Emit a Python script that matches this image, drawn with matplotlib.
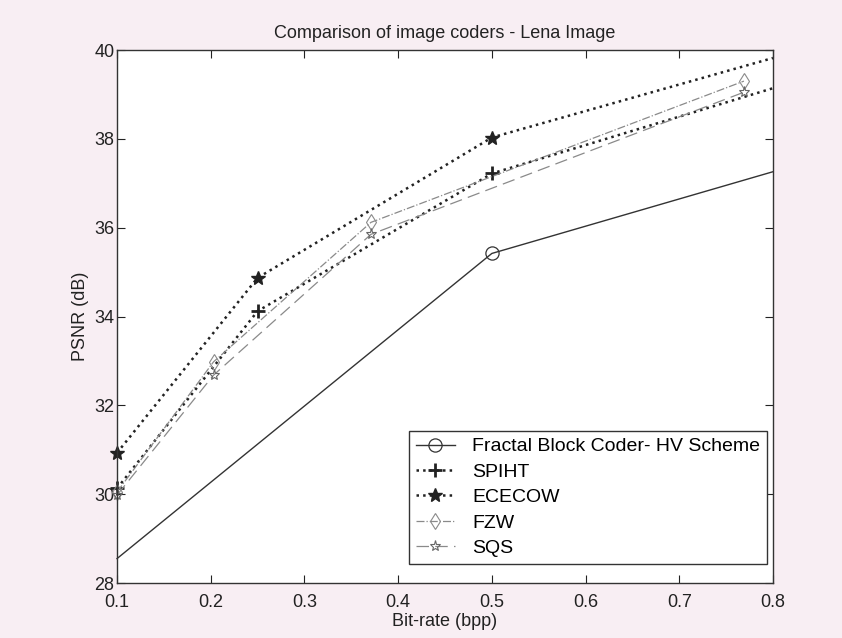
import matplotlib
matplotlib.use("Agg")
import matplotlib.pyplot as plt

plt.rcParams['font.family'] = ['Liberation Sans', 'DejaVu Sans']

# Bit-rate (bpp) and PSNR (dB) for each coder on the Lena image
fractal_bpp = [0.1, 0.5, 0.8]
fractal_psnr = [28.55, 35.42, 37.26]

spiht_bpp = [0.1, 0.25, 0.5, 0.8]
spiht_psnr = [30.13, 34.12, 37.22, 39.14]

ececow_bpp = [0.1, 0.25, 0.5, 0.8]
ececow_psnr = [30.93, 34.87, 38.03, 39.82]

fzw_bpp = [0.1, 0.203, 0.371, 0.769]
fzw_psnr = [30.05, 32.98, 36.12, 39.30]

sqs_bpp = [0.1, 0.203, 0.371, 0.769]
sqs_psnr = [29.98, 32.68, 35.85, 39.05]

x_ticks = [0.1, 0.2, 0.3, 0.4, 0.5, 0.6, 0.7, 0.8]
y_ticks = [28, 30, 32, 34, 36, 38, 40]

fig = plt.figure(figsize=(8.42, 6.38), dpi=100, facecolor='#f8eef3')
ax = fig.add_axes([0.139, 0.0862, 0.779, 0.8354])
ax.set_facecolor('white')

ax.plot(fractal_bpp, fractal_psnr, '-', color='#333333', lw=1.0,
        marker='o', ms=9.5, mfc='none', mec='#333333', mew=0.9,
        markevery=[1], label='Fractal Block Coder- HV Scheme', clip_on=False)
ax.plot(spiht_bpp, spiht_psnr, ':', color='#222222', lw=1.8,
        marker='+', ms=10, mew=2.0, markevery=[0, 1, 2],
        label='SPIHT', clip_on=False)
ax.plot(ececow_bpp, ececow_psnr, ':', color='#222222', lw=1.8,
        marker='*', ms=10, mfc='#222222', mec='#222222',
        markevery=[0, 1, 2], label='ECECOW', clip_on=False)
ax.plot(fzw_bpp, fzw_psnr, '-.', color='#8a8a8a', lw=0.9,
        marker='d', ms=8, mfc='none', mec='#8a8a8a', mew=0.8,
        label='FZW', clip_on=False)
ax.plot(sqs_bpp, sqs_psnr, '--', dashes=(10, 5), color='#8a8a8a', lw=0.9,
        marker='*', ms=8, mfc='none', mec='#666666', mew=0.8,
        label='SQS', clip_on=False)

ax.set_xlim(0.1, 0.8)
ax.set_ylim(28, 40)
ax.set_xticks(x_ticks)
ax.set_xticklabels([f'{v:g}' for v in x_ticks])
ax.set_yticks(y_ticks)
ax.tick_params(direction='in', top=True, right=True, length=6,
               labelsize=13, colors='#222222')
ax.tick_params(axis='x', pad=8)
ax.tick_params(axis='y', pad=2)
for s in ax.spines.values():
    s.set_color('#333333')
    s.set_linewidth(1.0)

ax.set_xlabel('Bit-rate (bpp)', fontsize=13, labelpad=1, color='#222222')
ax.set_ylabel('PSNR (dB)', fontsize=13, labelpad=4, color='#222222')
ax.set_title('Comparison of image coders - Lena Image', fontsize=13,
             pad=9, color='#222222')

leg = ax.legend(loc='lower right', bbox_to_anchor=(0.991, 0.036),
                borderaxespad=0, fontsize=14, frameon=True, fancybox=False,
                handlelength=2.0, handletextpad=0.9, labelspacing=0.4,
                borderpad=0.35)
leg.get_frame().set_edgecolor('#333333')
leg.get_frame().set_linewidth(1.0)
leg.get_frame().set_alpha(1)

fig.savefig('out.png', dpi=100, facecolor=fig.get_facecolor())
